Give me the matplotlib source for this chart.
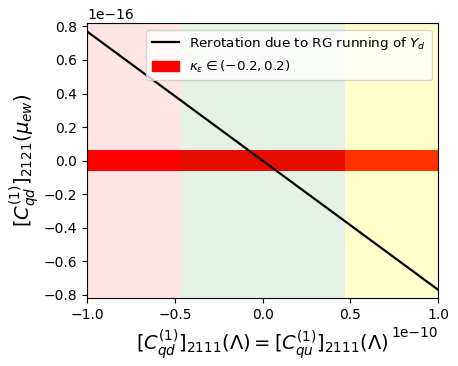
import numpy as np
import matplotlib
matplotlib.use("Agg")
import matplotlib.pyplot as plt
from matplotlib.patches import Patch

x_ends = [-1e-10, 1e-10]
y_ends = [0.77e-16, -0.77e-16]
band = [-0.063e-16, 0.063e-16]
region_edges = [-1e-10, -0.47e-10, 0.47e-10, 1e-10]
region_colors = ['red', 'green', 'yellow']
region_alphas = [0.1, 0.1, 0.2]

fig = plt.figure(figsize=(4.58, 3.66), dpi=100)
ax = fig.add_axes([0.19, 0.185, 0.767, 0.752])

ax.axhspan(band[0], band[1], color='red', lw=0)
for i in range(3):
    ax.axvspan(region_edges[i], region_edges[i+1], color=region_colors[i], alpha=region_alphas[i], lw=0)
ax.plot(x_ends, y_ends, color='black', lw=1.6)

ax.set_xlim(-1e-10, 1e-10)
ax.set_ylim(-0.82e-16, 0.82e-16)
ax.set_xticks(np.array([-1.0, -0.5, 0.0, 0.5, 1.0]) * 1e-10)
ax.set_yticks(np.array([-0.8, -0.6, -0.4, -0.2, 0.0, 0.2, 0.4, 0.6, 0.8]) * 1e-16)
ax.ticklabel_format(axis='y', style='sci', scilimits=(-16, -16))
ax.ticklabel_format(axis='x', style='sci', scilimits=(-10, -10))
ax.tick_params(labelsize=10)
ax.set_xlabel(r'$[C_{qd}^{(1)}]_{2111}(\Lambda) = [C_{qu}^{(1)}]_{2111}(\Lambda)$', fontsize=14)
ax.set_ylabel(r'$[C_{qd}^{(1)}]_{2121}(\mu_{ew})$', fontsize=14, labelpad=2)

handles = [plt.Line2D([], [], color='black', lw=1.6), Patch(color='red')]
labels = [r'Rerotation due to RG running of $Y_d$', r'$\kappa_\epsilon \in (-0.2, 0.2)$']
ax.legend(handles, labels, loc='upper right', fontsize=9.7)

fig.savefig('out.png', dpi=100)
